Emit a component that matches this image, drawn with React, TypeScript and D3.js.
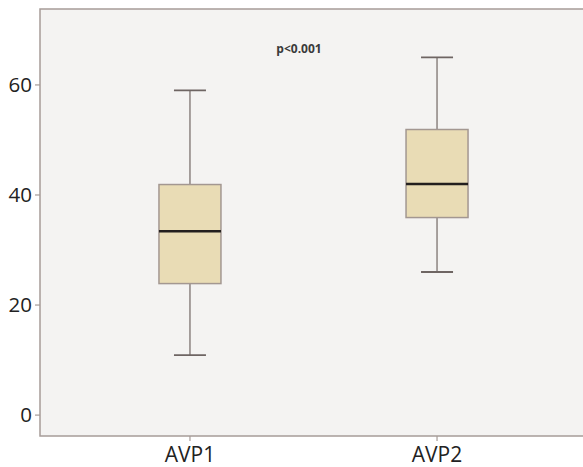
import React from 'react';
import * as d3 from 'd3';

// values
const groups = ['AVP1', 'AVP2'];
const mins = [10.9, 26];
const q1s = [23.9, 35.9];
const medians = [33.4, 42];
const q3s = [41.9, 51.9];
const maxs = [59, 65];
const yTicks = [0, 20, 40, 60];
const note = 'p<0.001';

const W = 583;
const H = 467;
const plot = { left: 40, top: 9, right: 590, bottom: 436 };

const App = () => {
    const y = d3.scaleLinear().domain([-3.8, 73.8]).range([plot.bottom, plot.top]);
    const x = d3.scalePoint<string>().domain(groups).range([plot.left, 587]).padding(0.607);

    const boxW = 62;
    const capW = 32;
    const border = '#a69c98';
    const whisker = '#8c8381';
    const font = '"Open Sans", sans-serif';

    return (
        <svg width={W} height={H} style={{ position: 'absolute', left: 0, top: 0, background: '#fff' }}>
            <rect x={plot.left} y={plot.top} width={plot.right - plot.left} height={plot.bottom - plot.top}
                fill="#f4f3f2" stroke={border} strokeWidth={1.5} />

            {/* y axis ticks */}
            {yTicks.map((t) => (
                <g key={t}>
                    <line x1={plot.left - 5} x2={plot.left} y1={y(t)} y2={y(t)} stroke={border} strokeWidth={1.2} />
                    <text x={plot.left - 8} y={y(t)} dy="0.36em" textAnchor="end"
                        fontFamily={font} fontSize={20.5} fill="#222">{t}</text>
                </g>
            ))}

            {/* x axis ticks and labels */}
            {groups.map((g) => (
                <g key={g}>
                    <line x1={x(g)} x2={x(g)} y1={plot.bottom} y2={plot.bottom + 5} stroke={border} strokeWidth={1.2} />
                    <text x={x(g)} y={462} textAnchor="middle" fontFamily={font} fontSize={21} fill="#222">{g}</text>
                </g>
            ))}

            {/* boxes */}
            {groups.map((g, i) => {
                const cx = x(g) as number;
                return (
                    <g key={g}>
                        <line x1={cx} x2={cx} y1={y(maxs[i])} y2={y(q3s[i])} stroke={whisker} strokeWidth={1.5} />
                        <line x1={cx} x2={cx} y1={y(q1s[i])} y2={y(mins[i])} stroke={whisker} strokeWidth={1.5} />
                        <line x1={cx - capW / 2} x2={cx + capW / 2} y1={y(maxs[i])} y2={y(maxs[i])} stroke="#6e6563" strokeWidth={1.8} />
                        <line x1={cx - capW / 2} x2={cx + capW / 2} y1={y(mins[i])} y2={y(mins[i])} stroke="#6e6563" strokeWidth={1.8} />
                        <rect x={cx - boxW / 2} y={y(q3s[i])} width={boxW} height={y(q1s[i]) - y(q3s[i])}
                            fill="#e9dcb5" stroke="#a39791" strokeWidth={1.5} />
                        <line x1={cx - boxW / 2} x2={cx + boxW / 2} y1={y(medians[i])} y2={y(medians[i])} stroke="#231f1e" strokeWidth={2.5} />
                    </g>
                );
            })}

            <text x={299} y={53} textAnchor="middle" fontFamily={font} fontSize={12} fontWeight="bold" fill="#3a3a3a">{note}</text>
        </svg>
    );
};

export default App;
